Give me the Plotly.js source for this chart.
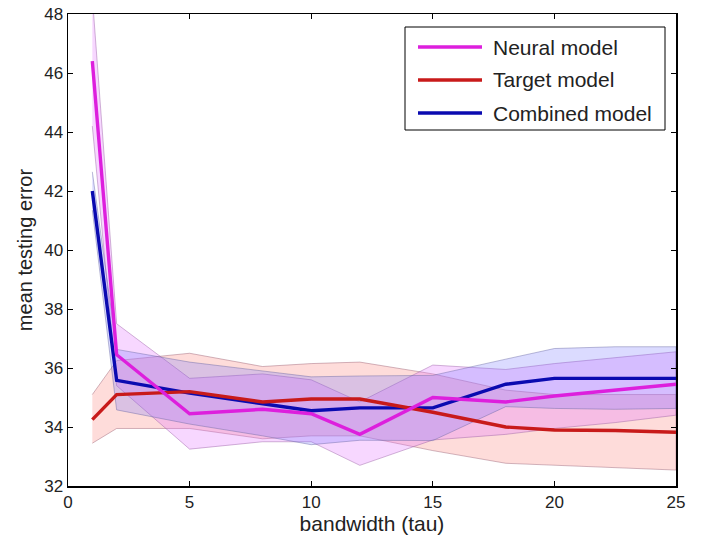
<!DOCTYPE html>
<html>
<head>
<meta charset="utf-8">
<script src="https://cdn.plot.ly/plotly-3.0.1.min.js"></script>
<style>html,body{margin:0;padding:0;background:#fff;}#chart{width:703px;height:537px;}</style>
</head>
<body>
<div id="chart"></div>
<script>
// bandwidth values (tau)
const bandwidth = [1, 2, 5, 8, 10, 12, 15, 18, 20, 22.5, 25];

// Neural model
const neuralMean  = [46.4, 36.45, 34.45, 34.6, 34.45, 33.75, 35.0, 34.85, 35.05, 35.25, 35.45];
const neuralUpper = [48.6, 37.5, 35.65, 35.8, 35.6, 34.85, 36.1, 35.95, 36.15, 36.35, 36.55];
const neuralLower = [44.2, 35.4, 33.25, 33.5, 33.5, 32.7, 33.56, 33.75, 33.95, 34.15, 34.4];

// Target model
const targetMean  = [34.25, 35.1, 35.2, 34.85, 34.95, 34.95, 34.5, 34.0, 33.9, 33.88, 33.82];
const targetUpper = [35.1, 36.25, 36.5, 36.05, 36.15, 36.2, 35.8, 35.25, 35.1, 35.1, 35.1];
const targetLower = [33.45, 33.95, 33.95, 33.6, 33.7, 33.7, 33.2, 32.77, 32.7, 32.62, 32.54];

// Combined model
const combinedMean  = [42.0, 35.58, 35.15, 34.8, 34.55, 34.65, 34.65, 35.45, 35.65, 35.65, 35.65];
const combinedUpper = [42.65, 36.63, 36.2, 35.9, 35.7, 35.73, 35.75, 36.3, 36.66, 36.72, 36.72];
const combinedLower = [41.35, 34.58, 34.1, 33.7, 33.4, 33.55, 33.54, 34.69, 34.63, 34.6, 34.63];

const seriesNames = ['Neural model', 'Target model', 'Combined model'];
const seriesColors = ['#dd1fdd', '#c81a1a', '#0a0ab0'];

const xTicks = [0, 5, 10, 15, 20, 25];
const yTicks = [32, 34, 36, 38, 40, 42, 44, 46, 48];

function band(upper, lower, fill, edge) {
  return {
    x: bandwidth.concat(bandwidth.slice().reverse()),
    y: upper.concat(lower.slice().reverse()),
    mode: 'lines', fill: 'toself', fillcolor: fill,
    line: {color: edge, width: 0.8},
    hoverinfo: 'skip', showlegend: false, type: 'scatter'
  };
}

const traces = [
  band(targetUpper, targetLower, 'rgba(250,110,100,0.24)', 'rgba(150,90,110,0.55)'),
  band(neuralUpper, neuralLower, 'rgba(225,110,255,0.28)', 'rgba(150,90,160,0.55)'),
  band(combinedUpper, combinedLower, 'rgba(110,110,255,0.25)', 'rgba(100,100,160,0.55)'),
  {x: bandwidth, y: combinedMean, name: seriesNames[2], mode: 'lines', type: 'scatter',
   line: {color: seriesColors[2], width: 3.4}, showlegend: false},
  {x: bandwidth, y: targetMean, name: seriesNames[1], mode: 'lines', type: 'scatter',
   line: {color: seriesColors[1], width: 3.4}, showlegend: false},
  {x: bandwidth, y: neuralMean, name: seriesNames[0], mode: 'lines', type: 'scatter',
   line: {color: seriesColors[0], width: 3.4}, showlegend: false}
];

const fontFam = '"Liberation Sans", Arial, sans-serif';

// manual legend (pixel positions converted to paper coords)
const L = 68, R = 676, T = 14, B = 486;
const px = v => (v - L) / (R - L);
const py = v => (B - v) / (B - T);
const shapes = [{type: 'rect', xref: 'paper', yref: 'paper',
  x0: px(405), x1: px(665), y0: py(130), y1: py(27),
  line: {color: '#000', width: 1}, fillcolor: '#fff', layer: 'above'}];
const annotations = [];
seriesNames.forEach((name, i) => {
  const yy = 47 + i * 33;
  shapes.push({type: 'line', xref: 'paper', yref: 'paper', x0: px(418), x1: px(482), y0: py(yy), y1: py(yy),
    line: {color: seriesColors[i], width: 3.4}, layer: 'above'});
  annotations.push({xref: 'paper', yref: 'paper', x: px(491), y: py(yy), xanchor: 'left', yanchor: 'middle',
    text: name, showarrow: false, font: {size: 21, family: fontFam, color: '#222'}});
});

const layout = {
  width: 703, height: 537,
  margin: {l: 68, r: 27, t: 14, b: 51},
  paper_bgcolor: '#fff', plot_bgcolor: '#fff',
  font: {family: fontFam, size: 16, color: '#222'},
  xaxis: {
    range: [0, 25], tickvals: xTicks, ticktext: xTicks.map(String),
    ticks: 'inside', ticklen: 5, tickcolor: '#000', showline: true, linecolor: '#000',
    linewidth: 1.5, mirror: 'ticks', showgrid: false, zeroline: false,
    tickfont: {size: 17, family: fontFam, color: '#222'},
    title: {text: 'bandwidth (tau)', font: {size: 21, family: fontFam, color: '#222'}, standoff: 4}
  },
  yaxis: {
    range: [32, 48], tickvals: yTicks, ticktext: yTicks.map(String),
    ticks: 'inside', ticklen: 5, tickcolor: '#000', showline: true, linecolor: '#000',
    linewidth: 1.5, mirror: 'ticks', showgrid: false, zeroline: false,
    tickfont: {size: 17, family: fontFam, color: '#222'},
    title: {text: 'mean testing error', font: {size: 20, family: fontFam, color: '#222'}, standoff: 6}
  },
  shapes: shapes,
  annotations: annotations,
  showlegend: false
};

Plotly.newPlot('chart', traces, layout, {displayModeBar: false, staticPlot: true});
</script>
</body>
</html>
